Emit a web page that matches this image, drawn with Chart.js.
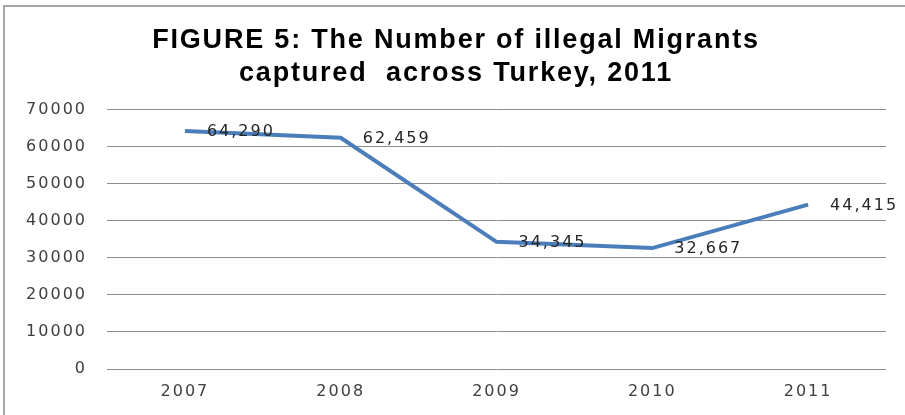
<!DOCTYPE html>
<html>
<head>
<meta charset="utf-8">
<script src="https://cdn.jsdelivr.net/npm/chart.js@4/dist/chart.umd.min.js"></script>
<style>
  body { margin: 0; background: #fff; }
  #wrap { position: relative; width: 905px; height: 415px; overflow: hidden; }
  #frame { position: absolute; left: 3px; top: 5px; width: 940px; height: 440px; border: 2px solid #a6a6a6; box-sizing: border-box; }
  canvas { position: absolute; left: 0; top: 0; }
</style>
</head>
<body>
<div id="wrap">
  <div id="frame"></div>
  <canvas id="migrants" width="905" height="415"></canvas>
</div>
<script>
// chart data
var years = ['2007', '2008', '2009', '2010', '2011']
var captured = [64290, 62459, 34345, 32667, 44415]
var valueLabels = ['64,290', '62,459', '34,345', '32,667', '44,415']
var titleLines = ['FIGURE 5: The Number of illegal Migrants', 'captured  across Turkey, 2011']

// the original text is stretched sideways, so widen it with letter spacing
var spacing = '2px'
var wideText = {
    id: 'wideText',
    beforeDraw: function (chart) { chart.ctx.letterSpacing = '1.8px' },
    beforeDatasetsDraw: function (chart) { chart.ctx.letterSpacing = spacing },
    afterDraw: function (chart) { chart.ctx.letterSpacing = '0px' }
}

// draw the value next to every point, like Excel's "right" data labels
var pointLabels = {
    id: 'pointLabels',
    afterDatasetsDraw: function (chart) {
        var ctx = chart.ctx
        var meta = chart.getDatasetMeta(0)
        ctx.save()
        ctx.letterSpacing = spacing
        ctx.font = '16px "DejaVu Sans", Verdana, sans-serif'
        ctx.fillStyle = '#262626'
        ctx.textAlign = 'left'
        ctx.textBaseline = 'middle'
        meta.data.forEach(function (pt, i) {
            ctx.fillText(valueLabels[i], pt.x + 22, pt.y + 1)
        })
        ctx.restore()
    }
}

var ctx = document.getElementById('migrants').getContext('2d')
new Chart(ctx, {
    type: 'line',
    data: {
        labels: years,
        datasets: [
            {
                data: captured,
                borderColor: '#4a7ebb',
                borderWidth: 4,
                pointRadius: 0,
                tension: 0,
                fill: false
            }
        ]
    },
    options: {
        responsive: false,
        animation: false,
        layout: { padding: { left: 26, right: 19, top: 0, bottom: 0 } },
        plugins: {
            legend: { display: false },
            tooltip: { enabled: false },
            title: {
                display: true,
                text: titleLines,
                color: '#000',
                font: { family: '"Liberation Sans", Arial, sans-serif', size: 27, weight: 'bold', lineHeight: 1.22 },
                padding: { top: 24, bottom: 20 }
            }
        },
        scales: {
            x: {
                offset: true,
                grid: { display: false, drawTicks: false },
                border: { display: false },
                ticks: {
                    z: 1,
                    color: '#404040',
                    padding: 13,
                    font: { family: '"DejaVu Sans", Verdana, sans-serif', size: 16 }
                },
                afterFit: function (scale) { scale.height = 46 }
            },
            y: {
                min: 0,
                max: 70000,
                grid: { color: '#8c8c8c', lineWidth: 1, drawTicks: false },
                border: { display: false },
                ticks: {
                    z: 1,
                    stepSize: 10000,
                    color: '#404040',
                    padding: 20,
                    font: { family: '"DejaVu Sans", Verdana, sans-serif', size: 16 },
                    callback: function (v) { return String(v) }
                },
                afterFit: function (scale) { scale.width = 81 }
            }
        }
    },
    plugins: [wideText, pointLabels]
})
</script>
</body>
</html>
